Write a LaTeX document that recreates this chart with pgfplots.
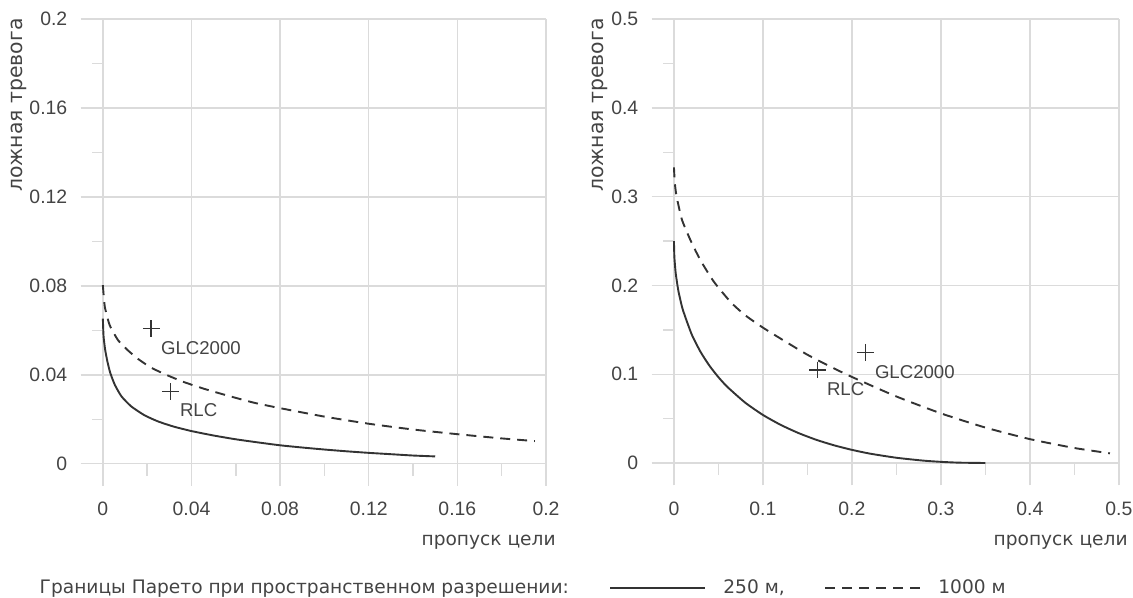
\documentclass[border=0pt]{standalone}
\usepackage{fontspec}
\setmainfont{Liberation Sans}
\newfontfamily\dejavu{DejaVu Sans}
\usepackage{pgfplots}
\pgfplotsset{compat=1.18}
\definecolor{gridc}{HTML}{DBDBDB}
\definecolor{txt}{HTML}{444444}
\definecolor{crv}{HTML}{333333}
\newcommand{\lib}{\fontsize{9.3}{11}\selectfont}
\newcommand{\tck}{\fontsize{9.7}{11}\selectfont}
\newcommand{\djv}{\dejavu\fontsize{9.3}{11}\selectfont}
\newcommand{\djy}{\dejavu\fontsize{10.2}{12}\selectfont}

\pgfplotsset{
  panel/.style={
    scale only axis, anchor=south west, clip=false,
    axis line style={draw=none}, tick style={draw=none},
    grid=major, major grid style={draw=gridc, line width=0.7pt},
    ticklabel style={font=\tck, text=txt},
    xticklabel style={yshift=-4.6pt}, yticklabel style={xshift=-3.2pt},
  },
  solidc/.style={crv, line width=0.95pt, smooth, tension=0.35},
  dashc/.style={crv, line width=0.95pt, dash pattern=on 5pt off 3.5pt, smooth, tension=0.35},
  pmark/.style={only marks, mark=+, mark size=4.2pt, crv, mark options={line width=0.7pt}},
}

\begin{document}
\begin{tikzpicture}
\path[use as bounding box] (0,0) rectangle (566.5pt,299pt);

% ---------------- left panel ----------------
\begin{axis}[panel, at={(40.35pt,56pt)}, width=232.65pt, height=233.5pt,
  xmin=-0.01, xmax=0.2, ymin=-0.01, ymax=0.2,
  xtick={0,0.04,0.08,0.12,0.16,0.2}, xticklabels={0,0.04,0.08,0.12,0.16,0.2},
  ytick={0,0.04,0.08,0.12,0.16,0.2}, yticklabels={0,0.04,0.08,0.12,0.16,0.2}]
  \pgfplotsinvokeforeach{0.02,0.06,0.10,0.14,0.18}{
    \draw[gridc, line width=0.7pt] (axis cs:#1,0) -- ([yshift=-6pt]axis cs:#1,0);
    \draw[gridc, line width=0.7pt] (axis cs:0,#1) -- ([xshift=-5.5pt]axis cs:0,#1);
  }
  \addplot[solidc] coordinates {
    (0,0.0653) (0.0003,0.0575) (0.001,0.0515) (0.002,0.0462) (0.0033,0.0410)
    (0.0054,0.0355) (0.0084,0.0303) (0.0128,0.0258) (0.0188,0.0218) (0.025,0.0190)
    (0.032,0.0167) (0.04,0.0147) (0.05,0.0127) (0.06,0.0110) (0.07,0.0096)
    (0.08,0.0083) (0.09,0.0073) (0.10,0.0064) (0.11,0.0056) (0.12,0.0049)
    (0.13,0.0043) (0.14,0.0037) (0.15,0.0033)};
  \addplot[dashc] coordinates {
    (0,0.0803) (0.0009,0.0705) (0.0031,0.0623) (0.0069,0.0555) (0.0113,0.0510)
    (0.0158,0.0472) (0.0218,0.0432) (0.0293,0.0397) (0.0367,0.0367) (0.0457,0.0337)
    (0.0561,0.0307) (0.068,0.0275) (0.08,0.0250) (0.10,0.0212) (0.12,0.0180)
    (0.14,0.0154) (0.16,0.0133) (0.18,0.0114) (0.195,0.0102)};
  \addplot[pmark] coordinates {(0.0218,0.0608)};
  \addplot[pmark] coordinates {(0.0304,0.0325)};
\end{axis}

% ---------------- right panel ----------------
\begin{axis}[panel, at={(325.85pt,56.35pt)}, width=233.55pt, height=233.15pt,
  xmin=-0.025, xmax=0.5, ymin=-0.025, ymax=0.5,
  xtick={0,0.1,0.2,0.3,0.4,0.5}, xticklabels={0,0.1,0.2,0.3,0.4,0.5},
  ytick={0,0.1,0.2,0.3,0.4,0.5}, yticklabels={0,0.1,0.2,0.3,0.4,0.5}]
  \pgfplotsinvokeforeach{0.05,0.15,0.25,0.35,0.45}{
    \draw[gridc, line width=0.7pt] (axis cs:#1,0) -- ([yshift=-6pt]axis cs:#1,0);
    \draw[gridc, line width=0.7pt] (axis cs:0,#1) -- ([xshift=-5.5pt]axis cs:0,#1);
  }
  \addplot[solidc] coordinates {
    (0,0.250) (0.0005,0.2315) (0.002,0.2136) (0.005,0.1938) (0.01,0.1726)
    (0.02,0.1448) (0.03,0.1250) (0.04,0.1095) (0.05,0.0967) (0.06,0.0858)
    (0.08,0.0681) (0.10,0.0542) (0.12,0.0430) (0.14,0.0338) (0.16,0.0262)
    (0.18,0.0200) (0.20,0.0149) (0.22,0.0107) (0.25,0.0060) (0.28,0.0028)
    (0.30,0.0014) (0.32,0.0005) (0.35,0.0001)};
  \addplot[dashc] coordinates {
    (0,0.333) (0.001,0.315) (0.003,0.300) (0.009,0.274) (0.019,0.250)
    (0.03,0.228) (0.045,0.204) (0.064,0.181) (0.08,0.1665) (0.1,0.1525)
    (0.125,0.137) (0.15,0.122) (0.175,0.109) (0.2,0.097) (0.25,0.075)
    (0.3,0.056) (0.35,0.040) (0.4,0.027) (0.45,0.017) (0.49,0.011)};
  \addplot[pmark] coordinates {(0.215,0.1247)};
  \addplot[pmark] coordinates {(0.1614,0.1049)};
\end{axis}

% ---------------- texts ----------------
\node[anchor=west, inner sep=0, font=\lib, text=txt] at (80.35pt,124.85pt) {GLC2000};
\node[anchor=west, inner sep=0, font=\lib, text=txt] at (89.8pt,94pt) {RLC};
\node[anchor=west, inner sep=0, font=\lib, text=txt] at (437.3pt,113pt) {GLC2000};
\node[anchor=west, inner sep=0, font=\lib, text=txt] at (413.3pt,104.5pt) {RLC};

\node[rotate=90, anchor=east, inner sep=0, font=\djy, text=txt] at (9.3pt,290pt) {ложная тревога};
\node[rotate=90, anchor=east, inner sep=0, font=\djy, text=txt] at (300pt,290pt) {ложная тревога};

\node[anchor=base east, inner sep=0, font=\djv, text=txt] at (278pt,26pt) {пропуск цели};
\node[anchor=base east, inner sep=0, font=\djv, text=txt] at (564pt,26pt) {пропуск цели};

\node[anchor=base west, inner sep=0, font=\djv, text=txt] at (19.65pt,2pt) {Границы Парето при пространственном разрешении:};
\draw[crv, line width=0.95pt] (305pt,5.15pt) -- (352.5pt,5.15pt);
\node[anchor=base west, inner sep=0, font=\djv, text=txt] at (361.5pt,2pt) {250 м,};
\draw[crv, line width=0.95pt, dash pattern=on 5pt off 3.5pt] (412.5pt,5.15pt) -- (460pt,5.15pt);
\node[anchor=base west, inner sep=0, font=\djv, text=txt] at (469pt,2pt) {1000 м};
\end{tikzpicture}
\end{document}
